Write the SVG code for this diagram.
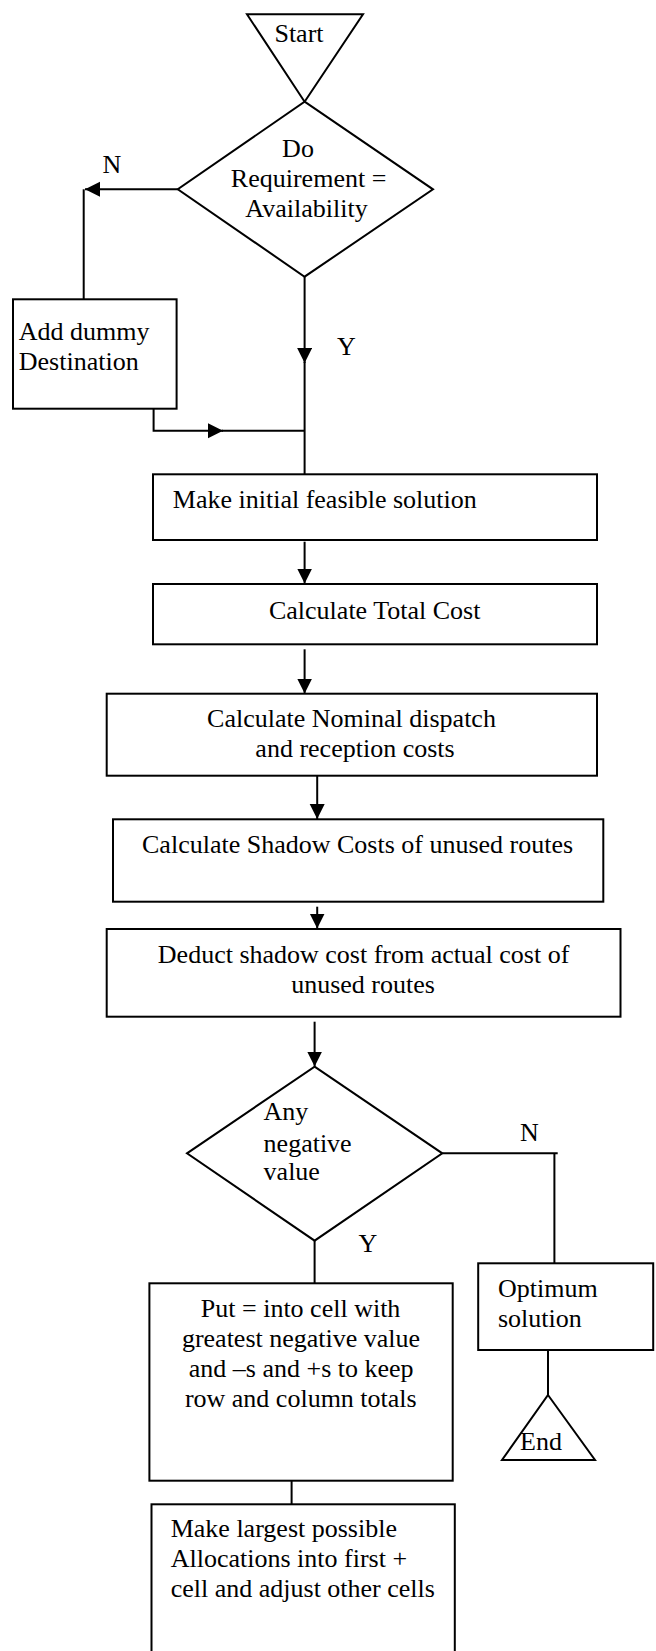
<svg xmlns="http://www.w3.org/2000/svg" width="656" height="1651" viewBox="0 0 656 1651">
<style>
.s{fill:#fff;stroke:#000;stroke-width:2}
.t{font-family:"Liberation Serif","Times New Roman",serif;font-size:26px;fill:#000}
.m{text-anchor:middle}
.c{fill:none;stroke:#000;stroke-width:2}
</style>
<defs>
<marker id="a" markerUnits="userSpaceOnUse" markerWidth="16" markerHeight="16" refX="15" refY="7.5" orient="auto">
<path d="M0,0 L15,7.5 L0,15 z" fill="#000"/>
</marker>
</defs>
<rect width="656" height="1651" fill="#fff"/>
<g id="connectors">
<path class="c" d="M177.8,189.3 H85" marker-end="url(#a)"/>
<path class="c" d="M83.7,189.3 V299.3"/>
<path class="c" d="M304.6,276.7 V363" marker-end="url(#a)"/>
<path class="c" d="M304.6,362 V474.3"/>
<path class="c" d="M153.6,408.7 V430.7 H223" marker-end="url(#a)"/>
<path class="c" d="M222,430.7 H304.6"/>
<path class="c" d="M304.6,541.7 V583.5" marker-end="url(#a)"/>
<path class="c" d="M304.6,649.3 V693.5" marker-end="url(#a)"/>
<path class="c" d="M317.2,775.7 V819" marker-end="url(#a)"/>
<path class="c" d="M317.2,906.7 V928.5" marker-end="url(#a)"/>
<path class="c" d="M314.6,1021.7 V1066.5" marker-end="url(#a)"/>
<path class="c" d="M442.3,1153.3 H557.7"/>
<path class="c" d="M554.4,1153.3 V1263.3"/>
<path class="c" d="M314.6,1240.7 V1283.3"/>
<path class="c" d="M548,1350 V1395"/>
<path class="c" d="M291.6,1480.7 V1504.3"/>
</g>
<g id="labels">
<text class="t" x="102.5" y="173.3">N</text>
<text class="t" x="337" y="355">Y</text>
<text class="t" x="520" y="1141">N</text>
<text class="t" x="358.6" y="1251.7">Y</text>
</g>
<g id="start">
<polygon class="s" points="247,14.3 363,14.3 304.6,101.7"/>
<text class="t m" x="299" y="41.7">Start</text>
</g>
<g id="decision1">
<polygon class="s" points="304.6,101.7 433,189.3 304.6,276.7 177.8,189.3"/>
<text class="t m" x="298" y="156.7">Do</text>
<text class="t m" x="308.6" y="186.7">Requirement =</text>
<text class="t m" x="306.5" y="216.7">Availability</text>
</g>
<g id="dummy">
<rect class="s" x="13" y="299.3" width="163.6" height="109.4"/>
<text class="t" x="18.8" y="340">Add dummy</text>
<text class="t" x="18.8" y="370">Destination</text>
</g>
<g id="initial">
<rect class="s" x="153" y="474.3" width="444" height="65.7"/>
<text class="t" x="172.8" y="508.3">Make initial feasible solution</text>
</g>
<g id="total">
<rect class="s" x="153" y="584" width="444" height="60.3"/>
<text class="t m" x="374.7" y="619.3">Calculate Total Cost</text>
</g>
<g id="nominal">
<rect class="s" x="106.7" y="693.7" width="490.3" height="82"/>
<text class="t m" x="351.5" y="726.7">Calculate Nominal dispatch</text>
<text class="t m" x="355" y="756.7">and reception costs</text>
</g>
<g id="shadow">
<rect class="s" x="113" y="819.3" width="490.3" height="82.4"/>
<text class="t m" x="357.6" y="853.3">Calculate Shadow Costs of unused routes</text>
</g>
<g id="deduct">
<rect class="s" x="106.7" y="929" width="513.8" height="87.7"/>
<text class="t m" x="363.6" y="962.7">Deduct shadow cost from actual cost of</text>
<text class="t m" x="363" y="993.3">unused routes</text>
</g>
<g id="decision2">
<polygon class="s" points="314.6,1066.7 442.3,1153.3 314.6,1240.7 187,1153.3"/>
<text class="t" x="263.6" y="1120">Any</text>
<text class="t" x="263.6" y="1151.7">negative</text>
<text class="t" x="263.6" y="1180">value</text>
</g>
<g id="put">
<rect class="s" x="149.4" y="1283.3" width="303.3" height="197.4"/>
<text class="t m" x="300.6" y="1316.7">Put = into cell with</text>
<text class="t m" x="301" y="1346.7">greatest negative value</text>
<text class="t m" x="301.2" y="1376.7">and –s and +s to keep</text>
<text class="t m" x="300.8" y="1406.7">row and column totals</text>
</g>
<g id="optimum">
<rect class="s" x="478.2" y="1263.3" width="175" height="86.7"/>
<text class="t" x="498" y="1296.7">Optimum</text>
<text class="t" x="498" y="1326.7">solution</text>
</g>
<g id="end">
<polygon class="s" points="548,1395 595,1460 502,1460"/>
<text class="t" x="520" y="1450">End</text>
</g>
<g id="largest">
<rect class="s" x="151.5" y="1504.3" width="303.3" height="160"/>
<text class="t" x="170.7" y="1536.7">Make largest possible</text>
<text class="t" x="170.7" y="1566.7">Allocations into first +</text>
<text class="t" x="170.7" y="1596.7">cell and adjust other cells</text>
</g>
</svg>
